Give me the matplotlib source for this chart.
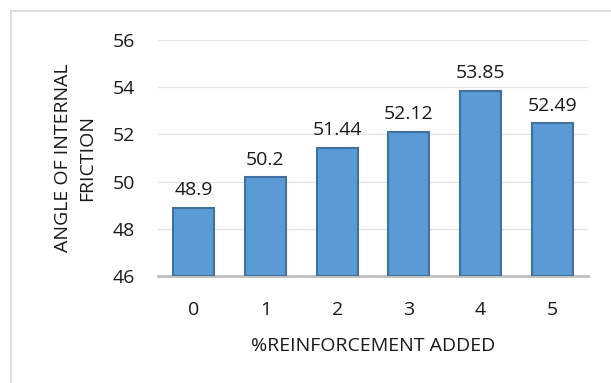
import matplotlib as mpl
mpl.use('Agg')
import matplotlib.pyplot as plt
from matplotlib.lines import Line2D

# data
categories = ['0', '1', '2', '3', '4', '5']
friction = [48.9, 50.2, 51.44, 52.12, 53.85, 52.49]
labels = ['48.9', '50.2', '51.44', '52.12', '53.85', '52.49']
yticks = [46, 48, 50, 52, 54, 56]

plt.rcParams['font.family'] = ['Open Sans', 'DejaVu Sans']
fs = 14

fig = plt.figure(figsize=(6.11, 3.83), dpi=100)
ax = fig.add_axes([158/611, 1 - 276/383, 430/611, 236/383])

x = list(range(len(categories)))
ax.bar(x, [v - 46 for v in friction], bottom=46, width=0.57,
       color='#5B9BD5', edgecolor='#41719C', linewidth=1.5, zorder=3)

for xi, v, s in zip(x, friction, labels):
    ax.annotate(s, (xi, v), xytext=(0, 6), textcoords='offset points',
                ha='center', va='bottom', fontsize=fs, color='#1a1a1a')

ax.set_xlim(-0.5, len(categories) - 0.5)
ax.set_ylim(46, 56)
ax.set_yticks(yticks)
ax.set_xticks(x)
ax.set_xticklabels(categories)
ax.tick_params(axis='both', length=0, labelsize=fs, colors='#1a1a1a')
ax.tick_params(axis='x', pad=18)
ax.tick_params(axis='y', pad=16.5)
ax.grid(axis='y', color='#E6E6E6', linewidth=1, zorder=0)

for side in ['top', 'right', 'left']:
    ax.spines[side].set_visible(False)
ax.spines['bottom'].set_color('#BFBFBF')
ax.spines['bottom'].set_linewidth(2)

ax.set_xlabel('%REINFORCEMENT ADDED', fontsize=fs, color='#1a1a1a', labelpad=13)
fig.text(75/611, 1 - 158/383, 'ANGLE OF INTERNAL\nFRICTION', rotation=90,
         ha='center', va='center', fontsize=fs, color='#1a1a1a',
         linespacing=1.45)

# chart area border
fig.add_artist(Line2D([10.5/611, 1], [1 - 10.5/383, 1 - 10.5/383],
                      transform=fig.transFigure, color='#D9D9D9', linewidth=1.2))
fig.add_artist(Line2D([10.5/611, 10.5/611], [0, 1 - 10.5/383],
                      transform=fig.transFigure, color='#D9D9D9', linewidth=1.2))

fig.savefig('out.png', dpi=100)
